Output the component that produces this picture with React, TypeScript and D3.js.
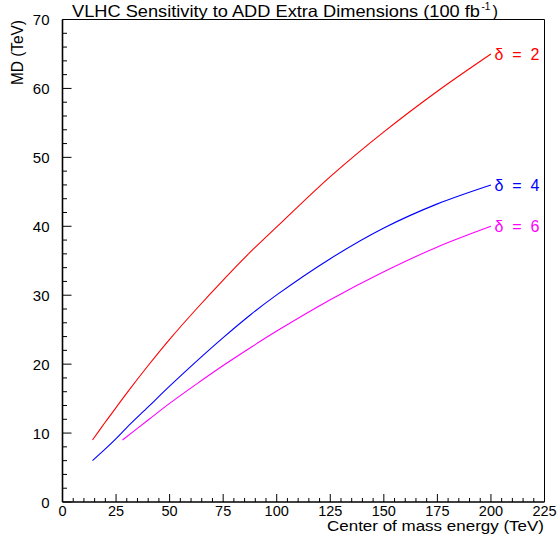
import React from "react";
import * as d3 from "d3";

const xTicks = [0, 25, 50, 75, 100, 125, 150, 175, 200, 225];
const yTicks = [0, 10, 20, 30, 40, 50, 60, 70];

const redX = [14, 20, 25, 30, 40, 50, 62.5, 75, 87.5, 100, 125, 150, 175, 200];
const redY = [9, 11.6, 13.7, 15.8, 19.8, 23.6, 28.0, 32.2, 36.2, 39.9, 47.2, 53.7, 59.6, 65];

const blueX = [14, 20, 25, 30, 40, 50, 62.5, 75, 87.5, 100, 125, 150, 175, 200];
const blueY = [6, 7.7, 9.2, 10.8, 13.8, 16.8, 20.4, 23.85, 27.1, 30.05, 35.3, 39.75, 43.25, 46];

const magX = [28, 40, 50, 62.5, 75, 87.5, 100, 125, 150, 175, 200];
const magY = [9, 11.9, 14.3, 17.1, 19.8, 22.35, 24.8, 29.35, 33.4, 37, 40];

const series = [
  { label: "2", xs: redX, ys: redY, color: "#ff0000" },
  { label: "4", xs: blueX, ys: blueY, color: "#0000ff" },
  { label: "6", xs: magX, ys: magY, color: "#ff00ff" },
];

const W = 557;
const H = 544;
const L = 62.5;
const R = 544.5;
const T = 19.5;
const B = 502;
const FONT = "'Liberation Sans', Arial, sans-serif";

export default function App() {
  const x = d3.scaleLinear().domain([0, 225]).range([L, R]);
  const y = d3.scaleLinear().domain([0, 70]).range([B, T]);
  const line = d3
    .line<[number, number]>()
    .x((d) => x(d[0]))
    .y((d) => y(d[1]))
    .curve(d3.curveCatmullRom.alpha(0.5));

  const xMinor = d3.range(0, 226, 5).filter((v) => v % 25 !== 0);
  const yMinor = d3.range(0, 71, 2).filter((v) => v % 10 !== 0);

  return (
    <svg
      width={W}
      height={H}
      style={{ position: "absolute", left: 0, top: 0, background: "#fff" }}
    >
      <rect x={0} y={0} width={W} height={H} fill="#fff" />
      {/* frame */}
      <line x1={L} y1={T} x2={R} y2={T} stroke="#000" strokeWidth={1} />
      <line x1={R} y1={T} x2={R} y2={B} stroke="#000" strokeWidth={1} />
      {/* curves */}
      {series.map((s) => (
        <path
          key={s.label}
          d={line(s.xs.map((v, i) => [v, s.ys[i]] as [number, number])) || ""}
          fill="none"
          stroke={s.color}
          strokeWidth={1.1}
        />
      ))}
      {series.map((s) => (
        <text
          key={"l" + s.label}
          x={x(s.xs[s.xs.length - 1]) + 3.5}
          y={y(s.ys[s.ys.length - 1]) + 6}
          fill={s.color}
          fontFamily={FONT}
          fontSize={16}
          textLength={45}
          lengthAdjust="spacing"
        >
          {"δ = " + s.label}
        </text>
      ))}
      {/* axes */}
      <line x1={L} y1={T} x2={L} y2={B} stroke="#000" strokeWidth={1.6} />
      <line x1={L} y1={B} x2={R} y2={B} stroke="#000" strokeWidth={1.6} />
      {xTicks.map((v) => (
        <g key={"xt" + v}>
          <line x1={x(v)} x2={x(v)} y1={B} y2={B - 8} stroke="#000" strokeWidth={1} />
          <text
            x={x(v)}
            y={515.5}
            textAnchor="middle"
            fontFamily={FONT}
            fontSize={14.5}
            fill="#000"
          >
            {v}
          </text>
        </g>
      ))}
      {xMinor.map((v) => (
        <line key={"xm" + v} x1={x(v)} x2={x(v)} y1={B} y2={B - 4} stroke="#000" strokeWidth={1} />
      ))}
      {yTicks.map((v) => (
        <g key={"yt" + v}>
          <line x1={L} x2={L + 9} y1={y(v)} y2={y(v)} stroke="#000" strokeWidth={1} />
          <text
            x={49.5}
            y={y(v) + 5.5}
            textAnchor="end"
            fontFamily={FONT}
            fontSize={15}
            fill="#000"
          >
            {v}
          </text>
        </g>
      ))}
      {yMinor.map((v) => (
        <line key={"ym" + v} x1={L} x2={L + 4.5} y1={y(v)} y2={y(v)} stroke="#000" strokeWidth={1} />
      ))}
      {/* title */}
      <text
        x={72}
        y={16.5}
        fontFamily={FONT}
        fontSize={16.5}
        fill="#000"
        textLength={408}
        lengthAdjust="spacingAndGlyphs"
      >
        VLHC Sensitivity to ADD Extra Dimensions (100 fb
      </text>
      <text x={481.5} y={10} fontFamily={FONT} fontSize={10} fill="#000">
        -1
      </text>
      <text x={492.5} y={16.5} fontFamily={FONT} fontSize={16.5} fill="#000">
        )
      </text>
      {/* axis labels */}
      <text
        x={327}
        y={531}
        fontFamily={FONT}
        fontSize={15.5}
        fill="#000"
        textLength={217}
        lengthAdjust="spacingAndGlyphs"
      >
        Center of mass energy (TeV)
      </text>
      <text
        transform="translate(22.5,85) rotate(-90)"
        fontFamily={FONT}
        fontSize={16}
        fill="#000"
        textLength={65}
        lengthAdjust="spacingAndGlyphs"
      >
        MD (TeV)
      </text>
    </svg>
  );
}
